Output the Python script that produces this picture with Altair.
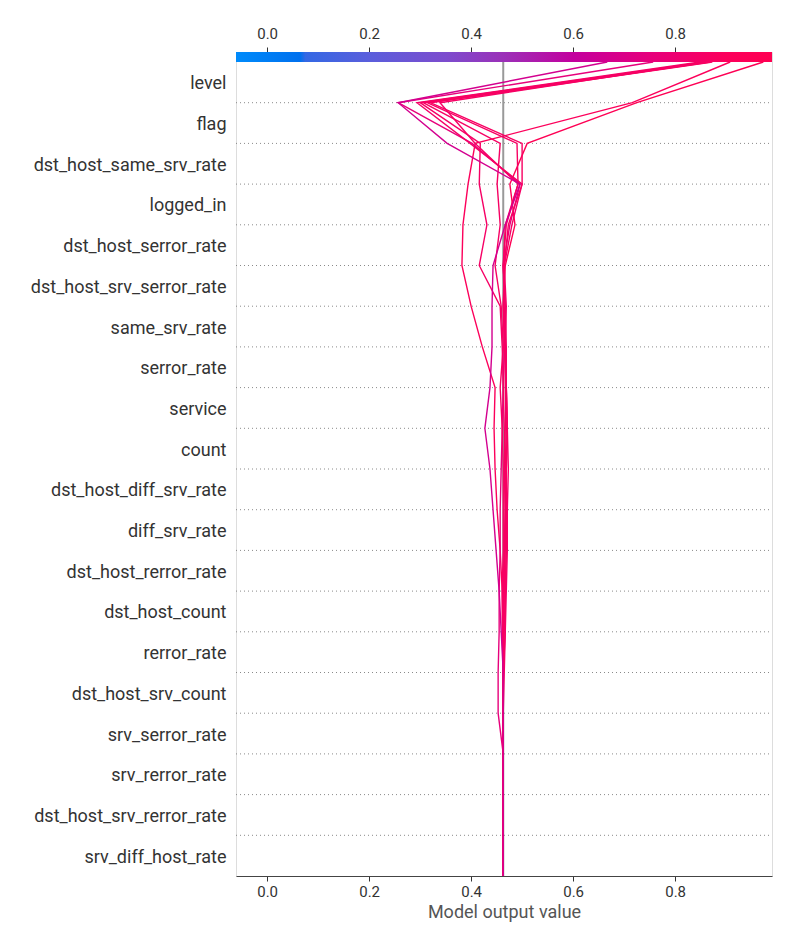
import altair as alt
import pandas as pd

# features listed bottom -> top (row k lies between level k and k+1)
features = [
    "srv_diff_host_rate", "dst_host_srv_rerror_rate", "srv_rerror_rate",
    "srv_serror_rate", "dst_host_srv_count", "rerror_rate", "dst_host_count",
    "dst_host_rerror_rate", "diff_srv_rate", "dst_host_diff_srv_rate", "count",
    "service", "serror_rate", "same_srv_rate", "dst_host_srv_serror_rate",
    "dst_host_serror_rate", "logged_in", "dst_host_same_srv_rate", "flag", "level",
]
base_value = 0.463
x_domain = [-0.061, 0.99]
tick_values = [0.0, 0.2, 0.4, 0.6, 0.8]

# cumulative model output at each level k = 0 (bottom) .. 20 (top)
L1 = [0.463, 0.463, 0.463, 0.463, 0.463, 0.463, 0.467, 0.467, 0.469, 0.467, 0.467,
      0.469, 0.467, 0.467, 0.463, 0.467, 0.486, 0.476, 0.510, 0.725, 0.973]
L2 = [0.463, 0.463, 0.463, 0.463, 0.463, 0.463, 0.463, 0.461, 0.457, 0.451, 0.447,
      0.445, 0.447, 0.422, 0.400, 0.382, 0.384, 0.394, 0.408, 0.716, 0.908]
L3 = [0.463, 0.463, 0.463, 0.463, 0.463, 0.463, 0.459, 0.455, 0.449, 0.443, 0.437,
      0.427, 0.437, 0.441, 0.441, 0.443, 0.467, 0.496, 0.353, 0.257, 0.667]
L4 = [0.463, 0.463, 0.463, 0.463, 0.453, 0.453, 0.455, 0.455, 0.457, 0.457, 0.459,
      0.461, 0.463, 0.465, 0.467, 0.463, 0.476, 0.496, 0.402, 0.257, 0.757]
L5 = [0.463, 0.463, 0.463, 0.463, 0.463, 0.465, 0.467, 0.469, 0.471, 0.471, 0.473,
      0.471, 0.469, 0.467, 0.469, 0.465, 0.480, 0.500, 0.398, 0.294, 0.849]
L6 = [0.463, 0.463, 0.463, 0.463, 0.463, 0.463, 0.463, 0.465, 0.465, 0.467, 0.467,
      0.465, 0.463, 0.461, 0.457, 0.416, 0.431, 0.416, 0.418, 0.300, 0.859]
L7 = [0.463, 0.463, 0.463, 0.463, 0.463, 0.463, 0.461, 0.461, 0.463, 0.463, 0.463,
      0.461, 0.457, 0.463, 0.459, 0.447, 0.457, 0.451, 0.457, 0.306, 0.865]
L8 = [0.463, 0.463, 0.463, 0.463, 0.463, 0.463, 0.465, 0.467, 0.469, 0.469, 0.469,
      0.471, 0.469, 0.469, 0.467, 0.463, 0.467, 0.492, 0.490, 0.314, 0.869]
L9 = [0.463, 0.463, 0.463, 0.463, 0.463, 0.463, 0.463, 0.465, 0.467, 0.469, 0.469,
      0.471, 0.469, 0.465, 0.463, 0.465, 0.473, 0.500, 0.500, 0.320, 0.873]
L10 = [0.463, 0.463, 0.463, 0.463, 0.463, 0.463, 0.463, 0.463, 0.465, 0.467, 0.465,
       0.467, 0.469, 0.467, 0.465, 0.463, 0.469, 0.492, 0.408, 0.339, 0.861]

series = {"a01": L1, "a02": L2, "a04": L4, "a05": L5, "a06": L6, "a07": L7,
          "a08": L8, "a09": L9, "a10": L10, "a11": L3}

# colour map (SHAP red-blue) stops in output-value units
cmap_values = [-0.061, 0.065, 0.075, 0.2, 0.35, 0.463, 0.6, 0.75, 0.9, 0.99]
cmap_colors = ["#008bfb", "#0070ee", "#3468e4", "#5a5edc", "#7c4cce", "#9b30b8",
               "#c3009e", "#e6007c", "#fc005c", "#ff0052"]

rows = []
for sid, vals in series.items():
    for k, v in enumerate(vals):
        rows.append({"id": sid, "k": k, "x": v, "final": vals[-1]})
df = pd.DataFrame(rows)

W, H = 536, 824
TOP_K = 20 + 10 / 40.7
xscale = alt.Scale(domain=x_domain, nice=False, zero=False)
yscale = alt.Scale(domain=[0, TOP_K], nice=False, zero=False)

label_expr = "[" + ",".join("'%s'" % f for f in features) + "][floor(datum.value)]"
yaxis = alt.Axis(values=[i + 0.5 for i in range(20)], labelExpr=label_expr,
                 ticks=False, domain=False, grid=False, title=None,
                 labelFontSize=18, labelColor="#333333", labelFont="Roboto",
                 labelPadding=10, labelLimit=400, labelOffset=1.5)

xaxis_bottom = alt.Axis(orient="bottom", values=tick_values, format=".1f", grid=False,
                        tickSize=5, tickColor="#333333", domainColor="#444444",
                        labelFontSize=15, labelColor="#333333", labelFont="Roboto",
                        labelPadding=3, title="Model output value", titleFontSize=18,
                        titleFont="Roboto", titleFontWeight="normal", titleColor="#555555",
                        titlePadding=4)
xaxis_top = alt.Axis(orient="top", values=tick_values, format=".1f", grid=False,
                     tickSize=5, tickColor="#333333", domain=False,
                     labelFontSize=15, labelColor="#333333", labelFont="Roboto",
                     labelPadding=6, title=None)

grid = alt.Chart(pd.DataFrame({"k": list(range(1, 20))})).mark_rule(
    color="#8a8a8a", strokeDash=[1, 3], strokeWidth=1
).encode(
    y=alt.Y("k:Q", scale=yscale, axis=yaxis),
    x=alt.value(0), x2=alt.value(W),
)

base = alt.Chart(pd.DataFrame({"x": [base_value], "y0": [0], "y1": [20]})).mark_rule(
    color="#999999", strokeWidth=2
).encode(
    x=alt.X("x:Q", scale=xscale, axis=None),
    y=alt.Y("y0:Q", scale=yscale, axis=yaxis), y2="y1:Q",
)

lines = alt.Chart(df).mark_line(strokeWidth=1.4).encode(
    x=alt.X("x:Q", scale=xscale, axis=xaxis_bottom),
    y=alt.Y("k:Q", scale=yscale, axis=yaxis),
    color=alt.Color("final:Q", legend=None,
                    scale=alt.Scale(domain=cmap_values, range=cmap_colors, interpolate="rgb")),
    detail="id:N",
    order="k:Q",
)

span = x_domain[1] - x_domain[0]
grad = alt.Gradient(
    gradient="linear", x1=0, x2=1, y1=0, y2=0,
    stops=[alt.GradientStop(offset=(v - x_domain[0]) / span, color=c)
           for v, c in zip(cmap_values, cmap_colors)],
)
colorbar = alt.Chart(pd.DataFrame({"x0": [x_domain[0]], "x1": [x_domain[1]],
                                   "y0": [20], "y1": [TOP_K]})).mark_rect(
    color=grad
).encode(
    x=alt.X("x0:Q", scale=xscale, axis=xaxis_top), x2="x1:Q",
    y=alt.Y("y0:Q", scale=yscale, axis=yaxis), y2="y1:Q",
)

chart = alt.layer(grid, base, lines, colorbar).resolve_axis(x="independent").properties(
    width=W, height=H,
    autosize=alt.AutoSizeParams(type="none"),
    padding={"left": 236, "top": 52, "right": 28, "bottom": 74},
).configure_view(stroke=None).configure(background="white")

chart.save("out.html", embed_options={"renderer": "svg", "actions": False})
